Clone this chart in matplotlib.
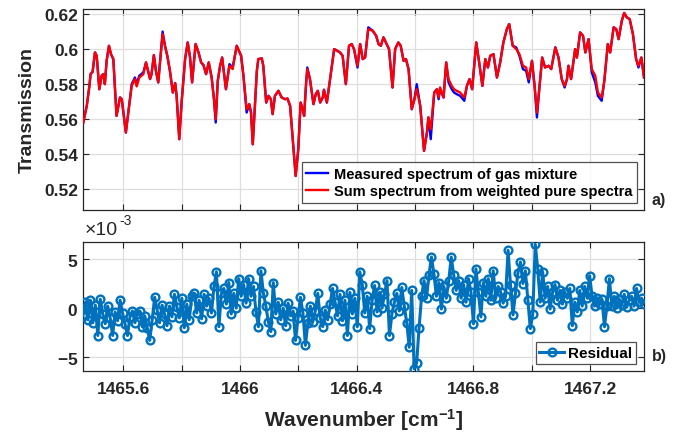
import numpy as np
import matplotlib
matplotlib.use('Agg')
import matplotlib.pyplot as plt
from matplotlib.ticker import FixedLocator, FuncFormatter, ScalarFormatter

# ---------------- data ----------------
wavenumber = [
    1465.463, 1465.475, 1465.484, 1465.488, 1465.495, 1465.503, 1465.509, 1465.518, 1465.526, 1465.532,
    1465.537, 1465.543, 1465.551, 1465.558, 1465.566, 1465.577, 1465.589, 1465.595, 1465.609, 1465.629,
    1465.640, 1465.646, 1465.655, 1465.669, 1465.678, 1465.692, 1465.697, 1465.705, 1465.712, 1465.720,
    1465.735, 1465.743, 1465.751, 1465.760, 1465.770, 1465.778, 1465.783, 1465.792, 1465.800, 1465.812,
    1465.821, 1465.829, 1465.836, 1465.848, 1465.858, 1465.867, 1465.875, 1465.884, 1465.893, 1465.903,
    1465.911, 1465.917, 1465.924, 1465.932, 1465.939, 1465.946, 1465.952, 1465.964, 1465.975, 1465.989,
    1466.004, 1466.012, 1466.023, 1466.032, 1466.038, 1466.044, 1466.058, 1466.063, 1466.075, 1466.080,
    1466.090, 1466.098, 1466.106, 1466.112, 1466.120, 1466.132, 1466.143, 1466.155, 1466.163, 1466.172,
    1466.181, 1466.191, 1466.200, 1466.208, 1466.215, 1466.220, 1466.227, 1466.231, 1466.240, 1466.252,
    1466.260, 1466.267, 1466.275, 1466.284, 1466.288, 1466.298, 1466.309, 1466.323, 1466.334, 1466.343,
    1466.352, 1466.363, 1466.374, 1466.383, 1466.391, 1466.403, 1466.412, 1466.421, 1466.429, 1466.440,
    1466.455, 1466.467, 1466.475, 1466.483, 1466.492, 1466.503, 1466.511, 1466.523, 1466.532, 1466.543,
    1466.551, 1466.561, 1466.569, 1466.578, 1466.589, 1466.598, 1466.606, 1466.618, 1466.631, 1466.641,
    1466.646, 1466.654, 1466.666, 1466.675, 1466.681, 1466.686, 1466.698, 1466.707, 1466.715, 1466.726,
    1466.734, 1466.743, 1466.755, 1466.769, 1466.778, 1466.787, 1466.796, 1466.810, 1466.820, 1466.831,
    1466.841, 1466.850, 1466.858, 1466.869, 1466.881, 1466.892, 1466.903, 1466.915, 1466.923, 1466.935,
    1466.947, 1466.958, 1466.970, 1466.981, 1466.990, 1467.001, 1467.010, 1467.018, 1467.027, 1467.036,
    1467.046, 1467.058, 1467.067, 1467.081, 1467.092, 1467.103, 1467.113, 1467.121, 1467.126, 1467.135,
    1467.149, 1467.155, 1467.166, 1467.176, 1467.184, 1467.195, 1467.206, 1467.218, 1467.227, 1467.240,
    1467.249, 1467.261, 1467.269, 1467.281, 1467.290, 1467.298, 1467.309, 1467.317, 1467.326, 1467.336,
    1467.347, 1467.358, 1467.366, 1467.376, 1467.385,
]

sum_spectrum = [
    0.5581, 0.5676, 0.5790, 0.5857, 0.5870, 0.5981, 0.5962, 0.5771, 0.5848, 0.5857,
    0.5800, 0.5933, 0.6019, 0.5971, 0.5943, 0.5619, 0.5724, 0.5714, 0.5524, 0.5790,
    0.5829, 0.5787, 0.5838, 0.5857, 0.5924, 0.5829, 0.5857, 0.5966, 0.5876, 0.5810,
    0.6086, 0.6019, 0.5962, 0.5876, 0.5752, 0.5806, 0.5733, 0.5486, 0.5695, 0.5943,
    0.6038, 0.5952, 0.5810, 0.6029, 0.5981, 0.5924, 0.5909, 0.5857, 0.5924, 0.5838,
    0.5714, 0.5600, 0.5819, 0.5905, 0.5952, 0.5857, 0.5771, 0.5905, 0.5886, 0.6019,
    0.5962, 0.5848, 0.5657, 0.5686, 0.5638, 0.5457, 0.5876, 0.5943, 0.5947, 0.5905,
    0.5695, 0.5733, 0.5714, 0.5629, 0.5733, 0.5762, 0.5724, 0.5714, 0.5718, 0.5676,
    0.5486, 0.5276, 0.5429, 0.5695, 0.5657, 0.5619, 0.5810, 0.5886, 0.5829, 0.5686,
    0.5743, 0.5762, 0.5695, 0.5724, 0.5768, 0.5695, 0.5829, 0.6000, 0.5990, 0.5981,
    0.5962, 0.5800, 0.6019, 0.6029, 0.6000, 0.5905, 0.6029, 0.5943, 0.5952, 0.6114,
    0.6105, 0.6076, 0.6029, 0.6019, 0.6067, 0.6029, 0.6000, 0.5781, 0.6000, 0.6038,
    0.6019, 0.5933, 0.5943, 0.5886, 0.5657, 0.5714, 0.5771, 0.5676, 0.5419, 0.5524,
    0.5610, 0.5543, 0.5752, 0.5771, 0.5724, 0.5781, 0.5724, 0.5924, 0.5829, 0.5790,
    0.5771, 0.5762, 0.5752, 0.5724, 0.5790, 0.5829, 0.5771, 0.6038, 0.5924, 0.5790,
    0.5943, 0.5895, 0.5962, 0.5971, 0.5838, 0.5924, 0.6038, 0.6114, 0.6143, 0.6019,
    0.6000, 0.5971, 0.5905, 0.5895, 0.5829, 0.5933, 0.5790, 0.5638, 0.5790, 0.5952,
    0.5895, 0.5905, 0.5886, 0.6010, 0.5952, 0.5829, 0.5790, 0.5829, 0.5905, 0.5829,
    0.6000, 0.5952, 0.6095, 0.6076, 0.5981, 0.6057, 0.5886, 0.5848, 0.5752, 0.5724,
    0.5819, 0.6029, 0.5981, 0.6124, 0.6114, 0.6057, 0.6162, 0.6206, 0.6181, 0.6171,
    0.6086, 0.5943, 0.5905, 0.5952, 0.5838,
]

measured_spectrum = [
    0.5581, 0.5676, 0.5790, 0.5857, 0.5870, 0.5981, 0.5962, 0.5771, 0.5848, 0.5857,
    0.5800, 0.5933, 0.6019, 0.5971, 0.5943, 0.5619, 0.5724, 0.5714, 0.5524, 0.5800,
    0.5838, 0.5800, 0.5848, 0.5867, 0.5924, 0.5829, 0.5857, 0.5966, 0.5876, 0.5810,
    0.6100, 0.6019, 0.5962, 0.5876, 0.5752, 0.5806, 0.5733, 0.5486, 0.5695, 0.5943,
    0.6038, 0.5952, 0.5810, 0.6029, 0.5981, 0.5924, 0.5909, 0.5857, 0.5924, 0.5838,
    0.5714, 0.5581, 0.5819, 0.5905, 0.5952, 0.5857, 0.5771, 0.5914, 0.5895, 0.6019,
    0.5962, 0.5848, 0.5638, 0.5686, 0.5638, 0.5457, 0.5876, 0.5943, 0.5947, 0.5905,
    0.5695, 0.5733, 0.5714, 0.5629, 0.5733, 0.5762, 0.5724, 0.5714, 0.5718, 0.5676,
    0.5486, 0.5276, 0.5429, 0.5695, 0.5657, 0.5619, 0.5810, 0.5895, 0.5829, 0.5686,
    0.5743, 0.5762, 0.5695, 0.5724, 0.5768, 0.5695, 0.5829, 0.6000, 0.5990, 0.5981,
    0.5962, 0.5800, 0.6019, 0.6029, 0.6000, 0.5895, 0.6029, 0.5943, 0.5952, 0.6124,
    0.6105, 0.6076, 0.6029, 0.6019, 0.6067, 0.6029, 0.6000, 0.5781, 0.6000, 0.6038,
    0.6019, 0.5933, 0.5943, 0.5886, 0.5657, 0.5714, 0.5800, 0.5676, 0.5419, 0.5524,
    0.5610, 0.5486, 0.5752, 0.5771, 0.5714, 0.5771, 0.5724, 0.5924, 0.5810, 0.5771,
    0.5752, 0.5743, 0.5733, 0.5705, 0.5790, 0.5829, 0.5771, 0.6038, 0.5924, 0.5790,
    0.5943, 0.5895, 0.5962, 0.5971, 0.5838, 0.5924, 0.6038, 0.6114, 0.6143, 0.6019,
    0.6010, 0.5962, 0.5886, 0.5876, 0.5810, 0.5933, 0.5790, 0.5610, 0.5790, 0.5952,
    0.5895, 0.5905, 0.5886, 0.6010, 0.5952, 0.5829, 0.5781, 0.5829, 0.5905, 0.5829,
    0.6000, 0.5952, 0.6095, 0.6076, 0.5981, 0.6057, 0.5867, 0.5810, 0.5733, 0.5705,
    0.5819, 0.6029, 0.5981, 0.6124, 0.6114, 0.6057, 0.6162, 0.6206, 0.6181, 0.6171,
    0.6086, 0.5943, 0.5895, 0.5952, 0.5838,
]

# residual (units of 1e-3), sampled evenly across the wavenumber range
residual_start = 1465.462
residual_stop = 1467.385
residual_e3 = [
    -0.8, 0.6, -1.2, 0.8, -1.5, 0.3, -2.8,
    0.9, -0.6, -1.6, 0.2, -1.0, -2.8, -0.4, -1.3, 0.8,
    -0.5, -1.6, -2.8, -0.9, -0.3, -1.5,
    -0.6, -0.3, -1.9, -0.8, -2.0, -3.3, -1.2, 1.1,
    -0.2, -1.5, 0.3, -0.6, -1.8, 0.2, -0.9, 1.4,
    0.1, -1.0, 1.0, -2.0, 0.4, -1.2, 1.2,
    1.5, -0.5, 0.8, -1.1, 1.4, 0.2,
    1.0, -0.5, 2.2,
    3.7, -1.9, 1.5,
    2.0, 0.4, 2.6, -0.6, 1.5, 0.0, 3.0, 1.2,
    2.4, 0.5, 3.0, 1.2, 2.2, -0.4, -1.9, 3.8, 1.5,
    0.2, -1.4, -2.4, 2.6,
    -0.6, 0.6, -1.2, 0.0, -1.8, 0.5, -0.8,
    -0.3, -3.3, -1.0, 1.1, -0.5, -3.8, -1.5,
    0.2, -1.4, -0.3, 1.5, -1.0, -1.9, -0.2, -1.2, 0.4,
    2.0, 0.6, -0.8, 1.4, -1.3, 0.8, -2.8,
    1.6, -0.6, 1.0, -1.9, 3.7,
    2.4, -0.5, 1.2, -2.1, 0.8, 2.3, -0.4, 1.6,
    0.0, 1.4, 2.8, -2.8, -0.6, 0.6, 1.5, -0.3,
    2.1, 0.2, -1.5, -4.0,
    1.8, -6.2, -5.6, -2.0,
    1.2, 2.8, 1.0, 3.4, 5.2,
    3.5, 1.2, 2.6, -0.1, 2.2, 1.0,
    2.8, 5.2, 3.4, 1.8,
    2.8, 1.0, 2.4, 0.6, 3.0, 1.6,
    -1.6, 4.0,
    1.6, -0.9, 2.6, 1.2, 3.0, 0.8,
    3.8, 1.0, 2.2,
    1.6, 0.5, 1.2,
    5.9, 2.3, -0.7,
    1.5, 3.6, 4.7, 2.5, 3.8,
    0.8, -2.1, -0.6, 6.5, 4.0,
    0.6, 3.7, 1.0, 2.2, -0.1, 1.6,
    2.4, 0.8, 1.8, 0.4, 1.6, 1.0, 2.0,
    -1.8, 0.6, -0.4,
    1.8, 0.2, 2.2, 1.0, 3.3,
    1.2, 0.2, 1.0, 0.4, 0.9,
    -1.9, 0.2, 3.0,
    0.2, 1.2, 0.0, 0.9, 0.3, 1.4, 0.1, 0.8, 1.2, 0.2, 2.0, 0.6, 1.0, 0.4,
]

tick_values = [1465.6, 1465.8, 1466.0, 1466.2, 1466.4, 1466.6, 1466.8, 1467.0, 1467.2]
tick_labels = ['1465.6', '', '1466', '', '1466.4', '', '1466.8', '', '1467.2']
label_measured = 'Measured spectrum of gas mixture'
label_sum = 'Sum spectrum from weighted pure spectra'
label_residual = 'Residual'

# ---------------- style ----------------
plt.rcParams['font.family'] = ['Liberation Sans', 'DejaVu Sans']
plt.rcParams['font.weight'] = 'bold'
plt.rcParams['mathtext.fontset'] = 'custom'
plt.rcParams['mathtext.rm'] = 'Liberation Sans'
plt.rcParams['mathtext.bf'] = 'Liberation Sans:bold'
plt.rcParams['mathtext.it'] = 'Liberation Sans:italic'
plt.rcParams['mathtext.default'] = 'rm'

axis_color = '#262626'
grid_color = '#dedede'
xlim = (1465.462, 1467.385)

fig = plt.figure(figsize=(6.73, 4.39), dpi=100)
ax1 = fig.add_axes([0.1233, 0.5194, 0.8336, 0.4579])
ax2 = fig.add_axes([0.1233, 0.1519, 0.8336, 0.2938])

ax1.plot(wavenumber, measured_spectrum, color='#0000ff', lw=1.7, label=label_measured, zorder=3)
ax1.plot(wavenumber, sum_spectrum, color='#ff0000', lw=1.7, label=label_sum, zorder=4)

res_x = np.linspace(residual_start, residual_stop, len(residual_e3))
res = np.array(residual_e3) * 1e-3
ax2.plot(res_x, res, color='#0072BD', lw=2.2, marker='o', ms=5.6,
         mfc='none', mew=1.7, label=label_residual, zorder=3)

for ax in (ax1, ax2):
    ax.set_xlim(*xlim)
    ax.xaxis.set_major_locator(FixedLocator(tick_values))
    ax.grid(True, color=grid_color, lw=0.9, zorder=0)
    ax.set_axisbelow(True)
    ax.tick_params(direction='in', top=True, right=True, length=4, width=0.8,
                   colors=axis_color, labelsize=12.5)
    ax.tick_params(axis='x', pad=7)
    for s in ax.spines.values():
        s.set_color(axis_color)
        s.set_linewidth(0.9)
    for lab in ax.get_xticklabels() + ax.get_yticklabels():
        lab.set_fontweight('bold')

ax1.set_ylim(0.5082, 0.6229)
ax1.yaxis.set_major_locator(FixedLocator([0.52, 0.54, 0.56, 0.58, 0.6, 0.62]))
ax1.yaxis.set_major_formatter(FuncFormatter(lambda v, p: '%g' % round(v, 4)))
ax1.set_xticklabels([])
ax1.set_ylabel('Transmission', fontsize=14, fontweight='bold', color=axis_color, labelpad=6)

ax2.set_ylim(-6.45e-3, 6.7e-3)
ax2.yaxis.set_major_locator(FixedLocator([-5e-3, 0, 5e-3]))
fmt = ScalarFormatter(useMathText=True)
fmt.set_powerlimits((-2, 2))
ax2.yaxis.set_major_formatter(fmt)
ax2.yaxis.get_offset_text().set_visible(False)
ax2.annotate('\u00d710', xy=(0, 1), xycoords='axes fraction', xytext=(1.5, 3),
             textcoords='offset points', fontsize=14, fontweight='normal',
             color=axis_color, ha='left', va='bottom')
ax2.annotate('-3', xy=(0, 1), xycoords='axes fraction', xytext=(26, 11),
             textcoords='offset points', fontsize=10, fontweight='normal',
             color=axis_color, ha='left', va='bottom')
ax2.set_xticklabels(tick_labels)
ax2.set_xlabel(r'Wavenumber [cm$^{\mathbf{-1}}$]', fontsize=15, fontweight='bold',
               color=axis_color, labelpad=7)

leg1 = ax1.legend(loc='lower right', fontsize=10.5, frameon=True, fancybox=False,
                  edgecolor=axis_color, handlelength=1.5, handletextpad=0.4,
                  borderaxespad=0.5, labelspacing=0.25, borderpad=0.3)
leg1.get_frame().set_linewidth(0.9)
for t in leg1.get_texts():
    t.set_fontweight('bold')

leg2 = ax2.legend(loc='lower right', fontsize=11, frameon=True, fancybox=False,
                  edgecolor=axis_color, handlelength=1.6, handletextpad=0.3,
                  borderaxespad=0.5, borderpad=0.25)
leg2.get_frame().set_linewidth(0.9)
for t in leg2.get_texts():
    t.set_fontweight('bold')

fig.text(0.968, 0.543, 'a)', fontsize=11.5, fontweight='bold', color=axis_color, va='center')
fig.text(0.968, 0.188, 'b)', fontsize=11.5, fontweight='bold', color=axis_color, va='center')

fig.savefig('out.png', dpi=100)
